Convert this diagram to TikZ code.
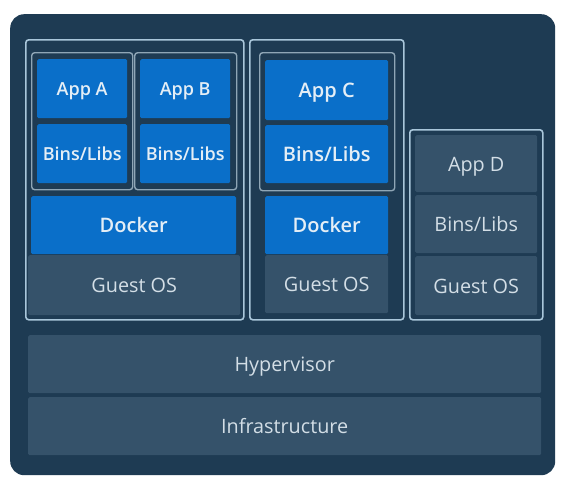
\documentclass[tikz,border=0pt]{standalone}
\usepackage{fontspec}
\setmainfont{Open Sans}[BoldFont={Open Sans Semibold}]
\begin{document}
\begin{tikzpicture}[x=1pt,y=-1pt,
  bluebox/.style={fill=boxblue,draw=none,rounded corners=1.5pt,inner sep=0pt,anchor=north west,text=txtblue,text height=14pt,text depth=0pt,font=\fontsize{18}{20}\selectfont\bfseries},
  bigblue/.style={bluebox,text height=15.3pt,font=\fontsize{20}{22}\selectfont\bfseries},
  graybox/.style={fill=boxgray,draw=none,rounded corners=1.5pt,inner sep=0pt,anchor=north west,text=txtgray,text height=15pt,text depth=0pt,font=\fontsize{19.8}{22}\selectfont},
  vmframe/.style={draw=framecol,line width=1.6pt,rounded corners=3pt,fill=none,inner sep=0pt,anchor=north west},
  ctframe/.style={draw=ctcol,line width=1.4pt,rounded corners=3pt,fill=none,inner sep=0pt,anchor=north west}]
\definecolor{bg}{HTML}{1E3B53}
\definecolor{boxblue}{HTML}{0A6FC9}
\definecolor{boxgray}{HTML}{35526A}
\definecolor{framecol}{HTML}{A9C6DA}
\definecolor{ctcol}{HTML}{8FA6B6}
\definecolor{txtgray}{HTML}{D3DEE6}
\definecolor{txtblue}{HTML}{E4EEF6}
\useasboundingbox (0,0) rectangle (575,482);
\fill[white] (0,0) rectangle (575,482);
\node[fill=bg,rounded corners=14pt,minimum width=545pt,minimum height=461pt,inner sep=0pt,anchor=north west] (panel) at (10,14) {};
% VM 1
\node[graybox,minimum width=212pt,minimum height=60pt] (gos1) at (28,255) {Guest OS};
\node[bigblue,minimum width=205pt,minimum height=58pt] (dock1) at (31,196) {Docker};
\node[bluebox,minimum width=90pt,minimum height=59pt] (appA) at (37,59) {App A};
\node[bluebox,minimum width=90pt,minimum height=59pt] (binsA) at (37,124) {Bins/Libs};
\node[bluebox,minimum width=90pt,minimum height=59pt] (appB) at (140,59) {App B};
\node[bluebox,minimum width=90pt,minimum height=59pt] (binsB) at (140,124) {Bins/Libs};
\node[ctframe,minimum width=101pt,minimum height=137pt] (ctA) at (31,52) {};
\node[ctframe,minimum width=102pt,minimum height=137pt] (ctB) at (134,52) {};
\node[vmframe,minimum width=218pt,minimum height=280pt] (vm1) at (25,39) {};
% VM 2
\node[graybox,minimum width=123pt,minimum height=58pt] (gos2) at (265,255) {Guest OS};
\node[bigblue,minimum width=123pt,minimum height=58pt] (dock2) at (265,196) {Docker};
\node[bigblue,minimum width=123pt,minimum height=60pt] (appC) at (265,60) {App C};
\node[bigblue,minimum width=123pt,minimum height=58pt] (binsC) at (265,125) {Bins/Libs};
\node[ctframe,minimum width=135pt,minimum height=138pt] (ctC) at (259,52) {};
\node[vmframe,minimum width=154pt,minimum height=280pt] (vm2) at (249,39) {};
% VM 3
\node[graybox,minimum width=122pt,minimum height=57pt] (appD) at (415,135) {App D};
\node[graybox,minimum width=122pt,minimum height=58pt] (binsD) at (415,195) {Bins/Libs};
\node[graybox,minimum width=122pt,minimum height=59pt] (gos3) at (415,256) {Guest OS};
\node[vmframe,minimum width=133pt,minimum height=190pt] (vm3) at (409,129) {};
% host layers
\node[graybox,minimum width=513pt,minimum height=58pt] (hyp) at (28,335) {Hypervisor};
\node[graybox,minimum width=513pt,minimum height=58pt] (infra) at (28,397) {Infrastructure};
\end{tikzpicture}
\end{document}
